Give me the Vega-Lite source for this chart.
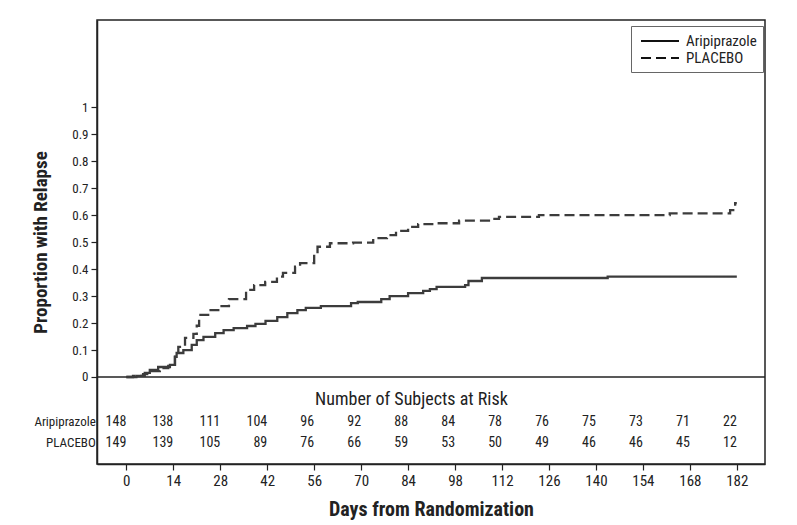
{
  "$schema": "https://vega.github.io/schema/vega-lite/v6.json",
  "width": 668,
  "height": 444,
  "autosize": {"type": "none"},
  "padding": {"left": 97, "top": 20, "right": 32, "bottom": 61},
  "config": {
    "font": "Liberation Sans Narrow, Roboto Condensed, DejaVu Sans Condensed, sans-serif",
    "view": {"stroke": "#222", "strokeWidth": 1.5},
    "axis": {"grid": false, "domainColor": "#222", "tickColor": "#222", "labelColor": "#222", "titleColor": "#222", "domainWidth": 1.5, "tickWidth": 1.2}
  },
  "datasets": {
    "km": [
      {"group": "Aripiprazole", "day": 0, "p": 0},
      {"group": "Aripiprazole", "day": 3, "p": 0.004},
      {"group": "Aripiprazole", "day": 5.5, "p": 0.015},
      {"group": "Aripiprazole", "day": 7, "p": 0.026},
      {"group": "Aripiprazole", "day": 9.5, "p": 0.037},
      {"group": "Aripiprazole", "day": 13, "p": 0.045},
      {"group": "Aripiprazole", "day": 14.5, "p": 0.075},
      {"group": "Aripiprazole", "day": 15, "p": 0.089},
      {"group": "Aripiprazole", "day": 17, "p": 0.1},
      {"group": "Aripiprazole", "day": 19.5, "p": 0.119},
      {"group": "Aripiprazole", "day": 21, "p": 0.137},
      {"group": "Aripiprazole", "day": 23, "p": 0.149},
      {"group": "Aripiprazole", "day": 26.5, "p": 0.163},
      {"group": "Aripiprazole", "day": 29, "p": 0.174},
      {"group": "Aripiprazole", "day": 32, "p": 0.181},
      {"group": "Aripiprazole", "day": 36, "p": 0.189},
      {"group": "Aripiprazole", "day": 38.5, "p": 0.197},
      {"group": "Aripiprazole", "day": 41.5, "p": 0.208},
      {"group": "Aripiprazole", "day": 45, "p": 0.222},
      {"group": "Aripiprazole", "day": 48, "p": 0.237},
      {"group": "Aripiprazole", "day": 51, "p": 0.248},
      {"group": "Aripiprazole", "day": 53.5, "p": 0.256},
      {"group": "Aripiprazole", "day": 58, "p": 0.263},
      {"group": "Aripiprazole", "day": 67, "p": 0.274},
      {"group": "Aripiprazole", "day": 69, "p": 0.278},
      {"group": "Aripiprazole", "day": 76, "p": 0.289},
      {"group": "Aripiprazole", "day": 78.5, "p": 0.3},
      {"group": "Aripiprazole", "day": 84, "p": 0.311},
      {"group": "Aripiprazole", "day": 88.5, "p": 0.319},
      {"group": "Aripiprazole", "day": 90.5, "p": 0.326},
      {"group": "Aripiprazole", "day": 92.5, "p": 0.334},
      {"group": "Aripiprazole", "day": 101, "p": 0.341},
      {"group": "Aripiprazole", "day": 102, "p": 0.356},
      {"group": "Aripiprazole", "day": 106, "p": 0.367},
      {"group": "Aripiprazole", "day": 143.5, "p": 0.372},
      {"group": "Aripiprazole", "day": 182, "p": 0.372},
      {"group": "PLACEBO", "day": 0, "p": 0},
      {"group": "PLACEBO", "day": 2, "p": 0.004},
      {"group": "PLACEBO", "day": 5, "p": 0.011},
      {"group": "PLACEBO", "day": 7, "p": 0.022},
      {"group": "PLACEBO", "day": 10, "p": 0.033},
      {"group": "PLACEBO", "day": 12.5, "p": 0.041},
      {"group": "PLACEBO", "day": 14.5, "p": 0.085},
      {"group": "PLACEBO", "day": 15.5, "p": 0.112},
      {"group": "PLACEBO", "day": 17.5, "p": 0.145},
      {"group": "PLACEBO", "day": 20, "p": 0.16},
      {"group": "PLACEBO", "day": 21, "p": 0.19},
      {"group": "PLACEBO", "day": 21.7, "p": 0.23},
      {"group": "PLACEBO", "day": 24.4, "p": 0.248},
      {"group": "PLACEBO", "day": 27.9, "p": 0.263},
      {"group": "PLACEBO", "day": 30.6, "p": 0.289},
      {"group": "PLACEBO", "day": 35.7, "p": 0.323},
      {"group": "PLACEBO", "day": 38.1, "p": 0.341},
      {"group": "PLACEBO", "day": 41.4, "p": 0.353},
      {"group": "PLACEBO", "day": 44.9, "p": 0.372},
      {"group": "PLACEBO", "day": 46.7, "p": 0.386},
      {"group": "PLACEBO", "day": 50.3, "p": 0.409},
      {"group": "PLACEBO", "day": 51.8, "p": 0.422},
      {"group": "PLACEBO", "day": 56, "p": 0.455},
      {"group": "PLACEBO", "day": 57, "p": 0.483},
      {"group": "PLACEBO", "day": 60.7, "p": 0.496},
      {"group": "PLACEBO", "day": 67.6, "p": 0.498},
      {"group": "PLACEBO", "day": 73.6, "p": 0.515},
      {"group": "PLACEBO", "day": 77.7, "p": 0.526},
      {"group": "PLACEBO", "day": 80.4, "p": 0.542},
      {"group": "PLACEBO", "day": 84, "p": 0.557},
      {"group": "PLACEBO", "day": 87, "p": 0.567},
      {"group": "PLACEBO", "day": 92.6, "p": 0.57},
      {"group": "PLACEBO", "day": 99.2, "p": 0.58},
      {"group": "PLACEBO", "day": 108.1, "p": 0.586},
      {"group": "PLACEBO", "day": 111.1, "p": 0.594},
      {"group": "PLACEBO", "day": 123, "p": 0.6},
      {"group": "PLACEBO", "day": 162, "p": 0.607},
      {"group": "PLACEBO", "day": 180, "p": 0.619},
      {"group": "PLACEBO", "day": 181.5, "p": 0.645},
      {"group": "PLACEBO", "day": 182, "p": 0.645}
    ],
    "risk": [
      {"group": "Aripiprazole", "day": 0, "n": 148},
      {"group": "Aripiprazole", "day": 14, "n": 138},
      {"group": "Aripiprazole", "day": 28, "n": 111},
      {"group": "Aripiprazole", "day": 42, "n": 104},
      {"group": "Aripiprazole", "day": 56, "n": 96},
      {"group": "Aripiprazole", "day": 70, "n": 92},
      {"group": "Aripiprazole", "day": 84, "n": 88},
      {"group": "Aripiprazole", "day": 98, "n": 84},
      {"group": "Aripiprazole", "day": 112, "n": 78},
      {"group": "Aripiprazole", "day": 126, "n": 76},
      {"group": "Aripiprazole", "day": 140, "n": 75},
      {"group": "Aripiprazole", "day": 154, "n": 73},
      {"group": "Aripiprazole", "day": 168, "n": 71},
      {"group": "Aripiprazole", "day": 182, "n": 22},
      {"group": "PLACEBO", "day": 0, "n": 149},
      {"group": "PLACEBO", "day": 14, "n": 139},
      {"group": "PLACEBO", "day": 28, "n": 105},
      {"group": "PLACEBO", "day": 42, "n": 89},
      {"group": "PLACEBO", "day": 56, "n": 76},
      {"group": "PLACEBO", "day": 70, "n": 66},
      {"group": "PLACEBO", "day": 84, "n": 59},
      {"group": "PLACEBO", "day": 98, "n": 53},
      {"group": "PLACEBO", "day": 112, "n": 50},
      {"group": "PLACEBO", "day": 126, "n": 49},
      {"group": "PLACEBO", "day": 140, "n": 46},
      {"group": "PLACEBO", "day": 154, "n": 46},
      {"group": "PLACEBO", "day": 168, "n": 45},
      {"group": "PLACEBO", "day": 182, "n": 12}
    ]
  },
  "encoding": {
    "x": {
      "type": "quantitative",
      "scale": {"domain": [-8.74, 190.4], "nice": false, "zero": false},
      "axis": {"values": [0, 14, 28, 42, 56, 70, 84, 98, 112, 126, 140, 154, 168, 182], "title": "Days from Randomization", "titleFontSize": 20, "titleFontWeight": "bold", "titlePadding": 11, "labelFontSize": 15, "labelPadding": 3, "tickSize": 6, "labelFlush": false}
    },
    "y": {
      "type": "quantitative",
      "scale": {"domain": [-0.3226, 1.3237], "nice": false, "zero": false},
      "axis": {"values": [0, 0.1, 0.2, 0.3, 0.4, 0.5, 0.6, 0.7, 0.8, 0.9, 1], "format": "~g", "title": "Proportion with Relapse", "titleFontSize": 19, "titleFontWeight": "bold", "titlePadding": 21, "labelFontSize": 13, "labelPadding": 3, "tickSize": 6, "labelFlush": false}
    }
  },
  "layer": [
    {
      "data": {"name": "risk"},
      "transform": [{"filter": "datum.day === 0 && datum.group === 'Aripiprazole'"}],
      "mark": {"type": "rule", "color": "#222", "strokeWidth": 1.5},
      "encoding": {"y": {"datum": 0}}
    },
    {
      "data": {"name": "km"},
      "mark": {"type": "line", "interpolate": "step-after", "color": "#3c3c3c", "strokeWidth": 2.3},
      "encoding": {
        "x": {"field": "day"},
        "y": {"field": "p"},
        "strokeDash": {
          "field": "group",
          "type": "nominal",
          "scale": {"domain": ["Aripiprazole", "PLACEBO"], "range": [[1, 0], [10, 5]]},
          "legend": {"orient": "none", "legendX": 534, "legendY": 6, "title": null, "symbolType": "M-0.625,0H4.125", "symbolSize": 256, "symbolStrokeWidth": 2, "symbolStrokeColor": "#111", "symbolFillColor": "transparent", "labelFontSize": 15, "labelColor": "#222", "strokeColor": "#666", "padding": 6, "fillColor": "white", "labelOffset": 31, "rowPadding": 0}
        }
      }
    },
    {
      "data": {"name": "risk"},
      "transform": [{"filter": "datum.group === 'Aripiprazole'"}],
      "layer": [
        {
          "mark": {"type": "text", "align": "right", "baseline": "middle", "fontSize": 14, "color": "#222"},
          "encoding": {"x": {"field": "day"}, "y": {"datum": -0.1669}, "text": {"field": "n"}}
        },
        {
          "transform": [{"filter": "datum.day === 0"}],
          "mark": {"type": "text", "align": "right", "baseline": "middle", "fontSize": 13, "color": "#222"},
          "encoding": {"x": {"datum": -9.1}, "y": {"datum": -0.1669}, "text": {"field": "group"}}
        },
        {
          "transform": [{"filter": "datum.day === 0"}],
          "mark": {"type": "text", "align": "center", "baseline": "middle", "fontSize": 18, "color": "#222", "text": "Number of Subjects at Risk"},
          "encoding": {"x": {"datum": 85}, "y": {"datum": -0.0853}}
        }
      ]
    },
    {
      "data": {"name": "risk"},
      "transform": [{"filter": "datum.group === 'PLACEBO'"}],
      "layer": [
        {
          "mark": {"type": "text", "align": "right", "baseline": "middle", "fontSize": 14, "color": "#222"},
          "encoding": {"x": {"field": "day"}, "y": {"datum": -0.2447}, "text": {"field": "n"}}
        },
        {
          "transform": [{"filter": "datum.day === 0"}],
          "mark": {"type": "text", "align": "right", "baseline": "middle", "fontSize": 13, "color": "#222"},
          "encoding": {"x": {"datum": -9.1}, "y": {"datum": -0.2447}, "text": {"field": "group"}}
        }
      ]
    }
  ]
}
